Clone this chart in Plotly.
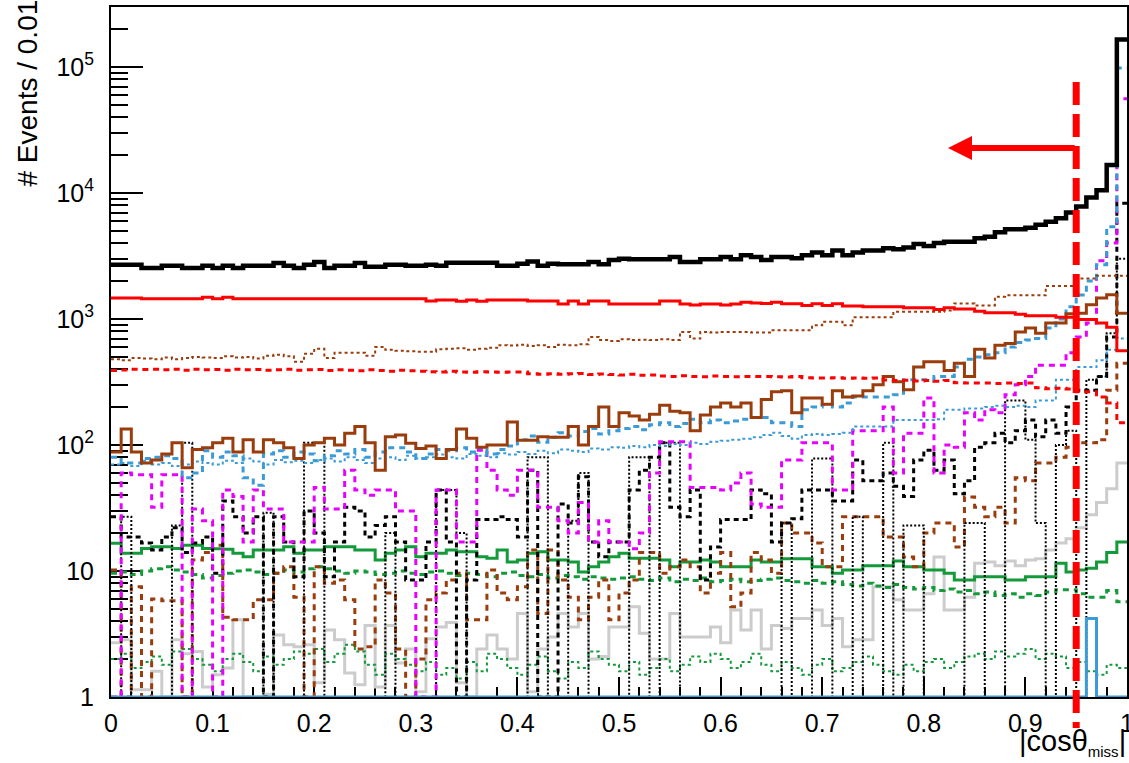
import plotly.graph_objects as go

# ---------------- data (100 bins of |cos theta_miss|, width 0.01) ----------------
n_bins = 100
bin_width = 0.01

total = [2690,2690,2690,2540,2540,2650,2650,2540,2540,2650,
         2540,2650,2540,2650,2650,2650,2780,2650,2540,2700,
         2830,2540,2650,2650,2780,2600,2600,2700,2690,2650,
         2650,2690,2650,2790,2790,2790,2790,2790,2650,2650,
         2750,2860,2650,2750,2720,2720,2720,2830,2720,2940,
         3000,2980,2980,2980,2980,3100,2830,2830,2980,2980,
         3100,2980,3200,3100,2940,3100,3100,3040,3210,3370,
         3210,3500,3210,3370,3500,3500,3650,3580,3700,3930,
         3800,4000,4100,4100,4100,4370,4500,4880,5150,5150,
         5300,5600,5900,6300,7000,7800,9200,10500,16700,165000]

red_solid = [1468,1468,1468,1450,1450,1450,1450,1450,1450,1490,
             1450,1490,1450,1450,1450,1450,1450,1450,1450,1450,
             1450,1450,1450,1450,1450,1450,1450,1450,1450,1450,
             1450,1390,1417,1417,1380,1417,1380,1417,1417,1417,
             1417,1390,1390,1390,1318,1390,1318,1390,1390,1318,
             1318,1318,1318,1318,1390,1390,1318,1290,1318,1318,
             1290,1318,1360,1340,1330,1360,1320,1320,1280,1320,
             1280,1320,1270,1270,1250,1250,1250,1250,1230,1230,
             1230,1190,1230,1200,1200,1150,1120,1120,1120,1090,
             1060,1060,1060,1030,1030,990,990,930,860,560]

red_dashed = [390,394,400,398,400,395,400,392,400,395,
              398,392,400,395,398,392,396,400,392,395,
              398,390,396,392,388,395,390,385,392,388,
              385,382,380,384,380,378,382,380,378,380,
              380,368,365,368,365,368,370,362,366,362,
              360,364,358,360,352,350,354,350,348,352,
              350,348,350,349,349,348,346,349,342,340,
              340,342,338,340,338,340,328,325,326,322,
              325,320,325,312,310,310,310,308,310,308,
              310,284,280,282,278,265,265,240,215,150]

brown_dotted = [480,470,490,485,480,495,480,490,500,495,
                490,505,495,500,485,510,520,505,458,530,
                580,490,540,540,540,510,600,570,560,555,
                550,550,575,580,585,570,580,590,620,615,
                625,610,620,600,625,620,630,720,680,670,
                690,680,685,680,690,680,790,700,790,780,
                790,790,790,780,780,815,815,815,815,890,
                950,950,890,1030,1030,1030,1030,1140,1140,1140,
                1140,1140,1170,1330,1330,1280,1280,1500,1540,1540,
                1540,1540,1830,1830,1830,2100,2100,2200,2200,2200]

brown_solid = [88,134,88,72,76,85,104,66,92,95,
               104,113,88,110,88,110,104,95,78,100,
               104,113,100,124,140,104,63,116,120,103,
               94,98,78,92,134,113,96,100,100,152,
               109,109,116,115,115,140,100,140,200,140,
               180,170,158,175,207,185,180,130,173,200,
               215,200,215,165,230,265,270,180,236,236,
               211,270,240,245,270,300,350,318,275,415,
               458,458,390,445,350,575,490,620,640,790,
               850,770,930,930,1100,1110,1300,1470,1560,1110]

blue_dashed = [80,72,72,78,80,82,78,55,60,90,
               80,88,82,55,48,85,90,80,88,85,
               75,82,90,85,92,80,88,95,95,88,
               78,85,92,90,95,88,95,85,92,98,
               110,118,105,115,125,118,128,135,122,130,
               135,140,132,145,150,140,148,160,150,158,
               150,155,160,165,165,150,150,140,190,200,
               210,200,215,240,240,240,240,250,330,330,
               330,350,350,415,480,500,520,540,600,650,
               680,700,850,1000,1250,1550,2000,2700,5400,98000]

blue_dotted = [70,72,68,75,70,72,68,70,74,72,
               70,75,72,78,74,70,76,73,75,72,
               76,78,74,80,76,72,78,80,76,82,
               78,80,84,80,78,85,82,80,86,84,
               88,85,90,86,92,90,88,94,92,96,
               95,98,96,100,98,102,100,104,102,106,
               108,110,112,115,120,125,118,112,120,122,
               120,122,125,140,140,140,140,158,158,158,
               158,160,190,190,195,195,200,205,200,205,
               200,225,225,330,330,415,415,470,570,700]

magenta_dashed = [1,60,58,58,32,58,58,1,31,25,
                  1,44,39,17,44,31,31,17,17,17,
                  46,31,31,63,44,40,44,44,30,30,
                  1,1,44,44,17,17,91,63,44,40,
                  63,63,32,32,25,20,35,17,25,17,
                  17,15,20,60,106,106,106,46,46,46,
                  44,50,60,34,32,32,76,76,104,104,
                  104,44,44,130,130,130,200,60,124,124,
                  236,60,100,96,180,158,190,180,250,300,
                  350,430,430,430,540,720,930,2900,4000,56000]

black_dashed = [27,18.6,18.6,16.7,14.7,18.6,22,14,16.7,18.6,
                9.6,36,27,20,27,1,27,17,9,30,
                20,9,17,32,30,18.6,23,27,17,8.5,
                8.5,17,44,17,1,8.5,25.6,25.6,27,25.6,
                18.6,63,1,1,34,24,56,17,13,17,
                17,44,63,80,104,32,27,44,8.5,15.5,
                25.6,25.6,25.6,44,41,17,24,26,44,44,
                44,36,36,76,52,52,60,47,39,76,
                91,63,76,41,52,96,104,124,104,130,
                158,116,158,124,200,272,272,350,720,8300]

black_dotted = [1,27,1,1,1,1,23,104,1,1,
                1,1,1,1,1,29,1,1,1,104,
                104,1,1,1,1,1,1,20,1,1,
                1,1,44,44,20,1,1,1,1,1,
                1,80,80,1,1,25,60,1,1,1,
                1,80,80,1,104,104,1,1,1,1,
                1,1,1,1,1,1,24,1,1,78,
                78,1,1,27,1,1,104,1,23,23,
                1,1,1,1,24,24,1,1,225,225,
                110,24,1,100,130,1,330,350,770,3000]

brown_dashed = [10.2,1,7.5,1,6.0,5.8,5.8,1,12.2,14,
                16,4.3,4.1,4.1,5.9,5.9,9.6,10.8,6.2,1,
                10.8,8.0,8.5,5.9,2.4,2.5,8.5,6.7,2.4,1,
                2.0,5.9,6.7,8.5,9.6,4.1,4.1,10.2,6.7,5.9,
                7.5,14.7,4.6,14.7,8.5,6.2,4.1,6.2,8.5,4.1,
                6.7,8.5,14,14,9.6,10.8,12.2,10.8,6.7,9.6,
                14,5.2,6.7,14,12.2,9.6,24,20,20,16.7,
                10.8,10.8,27,27,27,27,18.6,18.6,12.9,10.8,
                20,24,24,15.5,38.7,32,27,32,24,55,
                52,72,72,80,96,104,104,110,272,445]

green_solid = [16.6,13.8,13.8,15.1,15.6,15.6,15.1,16.0,16.0,15.1,
               15.0,14.9,13.8,13.0,14.7,14.7,14.7,15.6,13.8,14.7,
               14.7,15.6,15.6,15.6,14.7,14.7,12.2,13.8,14.7,15.6,
               13.0,13.8,13.8,14.7,14.2,14.2,13.0,12.6,14.7,11.8,
               12.2,13.8,14.2,12.2,12.2,11.8,9.8,10.8,11.8,13.0,
               13.8,12.6,12.6,12.6,12.2,10.8,11.8,11.8,12.2,11.8,
               10.8,10.8,10.8,12.2,11.8,11.8,12.5,12.5,12.5,10.8,
               10.8,9.6,10.2,10.2,11.0,11.0,11.0,12.0,10.8,10.8,
               10.2,10.2,9.6,8.5,8.5,9.0,9.0,9.0,8.5,8.5,
               9.0,9.0,9.0,11.5,9.8,10.2,10.5,11.8,14.0,17.0]

green_dashed = [9.6,9.8,9.4,10.0,10.4,10.8,10.2,9.8,9.4,8.8,
                9.2,9.6,10.0,10.2,9.8,9.4,9.6,10.2,9.8,10.4,
                10.8,10.4,10.0,9.6,10.0,9.8,9.4,9.6,10.0,9.6,
                9.4,9.8,10.0,9.6,9.2,9.6,9.4,9.0,9.6,9.8,
                9.2,9.0,9.4,8.8,9.2,9.0,8.6,9.0,8.8,8.6,
                8.8,9.0,8.6,8.4,8.8,8.2,8.6,8.4,8.8,8.2,
                8.4,8.6,8.2,8.4,8.6,8.8,8.4,8.2,8.0,8.4,
                8.0,8.2,7.8,7.6,8.0,7.6,7.4,7.8,7.4,7.2,
                7.4,7.0,7.2,6.8,7.0,6.6,6.8,6.4,6.6,6.2,
                6.6,6.4,6.8,7.1,7.1,6.6,6.2,6.2,7.0,5.7]

green_dotted = [2.0,2.2,1.7,1.9,2.1,1.8,2.3,2.4,2.0,1.8,
                1.6,2.0,2.2,1.9,1.6,2.1,1.8,2.0,2.3,2.2,
                2.4,1.9,2.2,2.6,2.3,1.8,1.5,2.2,2.0,1.8,
                1.6,1.9,1.5,1.7,1.4,1.9,1.6,2.2,2.0,1.7,
                1.5,1.8,2.1,1.6,1.4,1.9,1.7,2.3,2.0,1.8,
                1.6,1.9,1.5,1.7,2.0,1.6,1.8,2.1,1.9,2.2,
                2.0,1.7,1.9,2.2,1.8,1.6,1.9,1.7,1.5,1.8,
                2.0,1.6,1.7,1.9,2.1,1.8,1.6,1.5,1.8,1.6,
                1.9,2.0,1.7,1.9,2.1,2.2,2.0,2.3,2.1,2.2,
                2.4,2.0,2.2,2.1,1.7,1.9,1.6,1.5,1.8,1.7]

gray_solid = [2.7,2.85,1.14,1.14,1.6,1.0,2.85,2.2,2.3,1.2,
              1.5,1.7,4.1,1.0,1.0,1.05,3.1,2.6,2.5,2.6,
              1.3,3.4,2.85,1.55,1.25,3.7,1.2,3.7,1.86,2.4,
              1.1,2.9,3.6,3.9,1.3,1.0,2.4,3.1,2.4,2.0,
              4.6,1.1,2.4,3.0,4.6,3.6,4.6,2.0,2.1,3.6,
              3.6,5.2,3.2,2.0,2.0,4.6,3.0,3.0,3.0,3.6,
              2.7,4.9,3.4,4.9,2.4,3.7,3.5,4.2,4.2,4.9,
              3.7,4.2,2.5,2.85,2.85,7.5,7.5,5.9,4.9,4.9,
              6.6,12.9,4.9,4.9,6.2,11.5,11.8,11.0,12.0,11.0,
              12.2,12.5,14.7,16.7,18.0,22.0,28.0,35.0,45.0,72.0]

blue_solid = [1]*96 + [4.2] + [1]*3

cut_value = 0.95
x_ticks = [0, 0.1, 0.2, 0.3, 0.4, 0.5, 0.6, 0.7, 0.8, 0.9, 1.0]
x_ticktext = ["0", "0.1", "0.2", "0.3", "0.4", "0.5", "0.6", "0.7", "0.8", "0.9", "1"]
y_ticks = [1, 10, 100, 1000, 10000, 100000]
y_ticktext = ["1", "10", "10<sup>2</sup>", "10<sup>3</sup>", "10<sup>4</sup>", "10<sup>5</sup>"]
y_minor = [m * 10 ** d for d in range(0, 6) for m in range(2, 10)]

# ---------------- figure ----------------
edges = [round(i * bin_width, 2) for i in range(n_bins + 1)]

BROWN = "#9a3c0c"
BLUE = "#3a9bd6"
MAGENTA = "#e800ff"
GREEN = "#139a3b"
GRAY = "#cccccc"

series = [
    (gray_solid, GRAY, 3, "solid"),
    (green_dotted, GREEN, 2, "3px,3px"),
    (green_dashed, GREEN, 3, "6px,5px"),
    (green_solid, GREEN, 3, "solid"),
    (brown_dashed, BROWN, 3, "6px,5px"),
    (black_dotted, "#000000", 2, "2px,2px"),
    (black_dashed, "#000000", 3, "5px,4px"),
    (magenta_dashed, MAGENTA, 3, "6px,5px"),
    (blue_dotted, BLUE, 2, "3px,3px"),
    (blue_dashed, BLUE, 3, "6px,5px"),
    (brown_solid, BROWN, 3, "solid"),
    (red_dashed, "#ff0000", 3, "6px,5px"),
    (brown_dotted, BROWN, 2, "3px,3px"),
    (red_solid, "#ff0000", 3, "solid"),
    (blue_solid, BLUE, 3, "solid"),
    (total, "#000000", 4.5, "solid"),
]

fig = go.Figure()
for vals, color, width, dash in series:
    fig.add_trace(go.Scatter(
        x=edges, y=list(vals) + [vals[-1]],
        mode="lines", line=dict(color=color, width=width, dash=dash, shape="hv"),
        showlegend=False, hoverinfo="skip"))

FONT = "Liberation Sans, Arial, Helvetica, sans-serif"

fig.update_layout(
    width=1129, height=763,
    margin=dict(l=111, r=2, t=7, b=66, autoexpand=False),
    paper_bgcolor="white", plot_bgcolor="white",
    font=dict(family=FONT, color="black"),
)
fig.update_xaxes(
    range=[0, 1], showgrid=False, zeroline=False, layer="below traces",
    automargin=False,
    showline=True, linecolor="black", linewidth=2, mirror=True,
    tickmode="array", tickvals=x_ticks, ticktext=x_ticktext,
    ticks="inside", ticklen=20, tickwidth=1.5, tickcolor="black",
    tickfont=dict(size=25, family=FONT), ticklabelstandoff=3,
    ticklabeloverflow="allow",
    minor=dict(tickmode="linear", tick0=0, dtick=0.02, ticks="inside",
               ticklen=10, tickwidth=1.5, tickcolor="black", showgrid=False),
)
fig.update_yaxes(
    type="log", range=[0, 5.476], showgrid=False, zeroline=False, layer="below traces",
    automargin=False,
    showline=True, linecolor="black", linewidth=2, mirror=True,
    tickmode="array", tickvals=y_ticks, ticktext=y_ticktext,
    ticks="inside", ticklen=32, tickwidth=1.5, tickcolor="black",
    tickfont=dict(size=25, family=FONT), ticklabelstandoff=10,
    minor=dict(tickmode="array", tickvals=y_minor, ticks="inside",
               ticklen=17, tickwidth=1.5, tickcolor="black", showgrid=False),
)

# cut line
fig.add_shape(type="line", xref="x", yref="paper",
              x0=cut_value, x1=cut_value, y0=0.8913, y1=-0.045,
              line=dict(color="#ff0000", width=7, dash="23px,9px"), layer="above")
# arrow
fig.add_annotation(x=0.8238, y=4.357, ax=cut_value, ay=4.357, axref="x", ayref="y",
                   xref="x", yref="y", text="", showarrow=True,
                   arrowhead=2, arrowsize=0.8, arrowwidth=6, arrowcolor="#ff0000")

# axis titles
fig.add_annotation(text="# Events / 0.01", textangle=-90, showarrow=False,
                   xref="paper", yref="paper", x=-0.0817, y=1.0145,
                   xanchor="center", yanchor="top",
                   font=dict(size=28, family=FONT, color="black"))
fig.add_annotation(text="|cosθ<sub><span style='font-size:15px'>miss</span></sub>|",
                   showarrow=False, xref="paper", yref="paper",
                   x=1.001, y=-0.094, xanchor="right", yanchor="bottom",
                   font=dict(size=29, family=FONT, color="black"))

fig.write_html("out.html")
